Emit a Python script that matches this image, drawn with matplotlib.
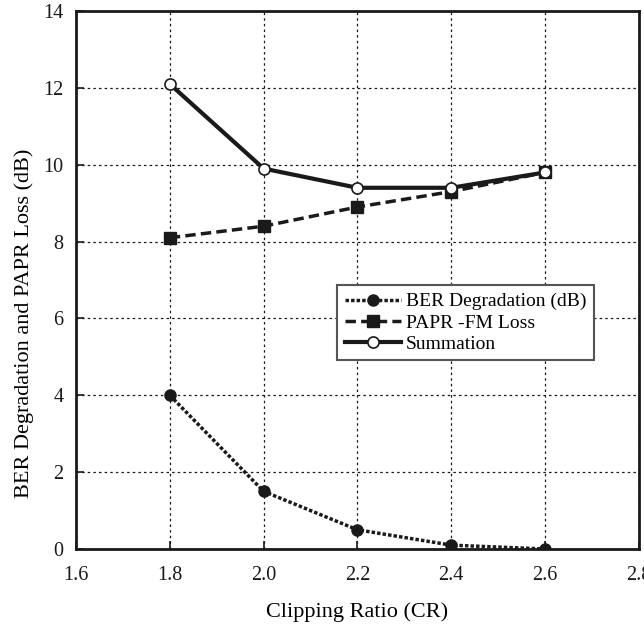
import matplotlib
matplotlib.use("Agg")
import matplotlib.pyplot as plt

plt.rcParams['font.family'] = ['Liberation Serif', 'DejaVu Serif']

cr = [1.8, 2.0, 2.2, 2.4, 2.6]
ber_deg = [4.0, 1.5, 0.5, 0.1, 0.0]
papr_loss = [8.1, 8.4, 8.9, 9.3, 9.8]
summation = [12.1, 9.9, 9.4, 9.4, 9.8]

x_ticks = [1.6, 1.8, 2.0, 2.2, 2.4, 2.6, 2.8]
x_labels = ['1.6', '1.8', '2.0', '2.2', '2.4', '2.6', '2.8']
y_ticks = [0, 2, 4, 6, 8, 10, 12, 14]

fig = plt.figure(figsize=(6.44, 6.30), dpi=100)
ax = fig.add_axes([0.118, 0.1286, 0.874, 0.8539])

ax.plot(cr, ber_deg, color='#1a1a1a', linestyle=(0, (1, 0.6)), linewidth=2.5,
        marker='o', markersize=8, markerfacecolor='#1a1a1a', label='BER Degradation (dB)', zorder=3)
ax.plot(cr, papr_loss, color='#1a1a1a', linestyle=(0, (3, 1.5)), linewidth=2.5,
        marker='s', markersize=9, markerfacecolor='#1a1a1a', label='PAPR -FM Loss', zorder=3)
ax.plot(cr, summation, color='#1a1a1a', linestyle='-', linewidth=3,
        marker='o', markersize=8, markerfacecolor='white', markeredgecolor='#1a1a1a',
        markeredgewidth=1.2, label='Summation', zorder=4)

ax.set_xlim(1.6, 2.8)
ax.set_ylim(0, 14)
ax.set_xticks(x_ticks)
ax.set_xticklabels(x_labels)
ax.set_yticks(y_ticks)
ax.grid(True, color='#1a1a1a', linestyle=(0, (2, 2.5)), linewidth=0.9)
ax.tick_params(direction='in', length=6, width=1.2, labelsize=14.5, colors='#1a1a1a')
ax.tick_params(axis='x', pad=12)
ax.tick_params(axis='y', pad=9)
for s in ax.spines.values():
    s.set_linewidth(2)
    s.set_color('#1a1a1a')

ax.set_xlabel('Clipping Ratio (CR)', fontsize=16)
ax.set_ylabel('BER Degradation and PAPR Loss (dB)', fontsize=16)
ax.xaxis.set_label_coords(0.5, -0.0985)
ax.yaxis.set_label_coords(-0.0746, 0.42)

leg = ax.legend(loc='upper left', bbox_to_anchor=(0.4636, 0.4907), borderaxespad=0,
                fontsize=14, frameon=True, fancybox=False, framealpha=1, edgecolor='#555555',
                handlelength=2.9, handletextpad=0.25, borderpad=0.4, labelspacing=0.18)
leg.get_frame().set_linewidth(1.5)

fig.savefig('out.png', dpi=100)
